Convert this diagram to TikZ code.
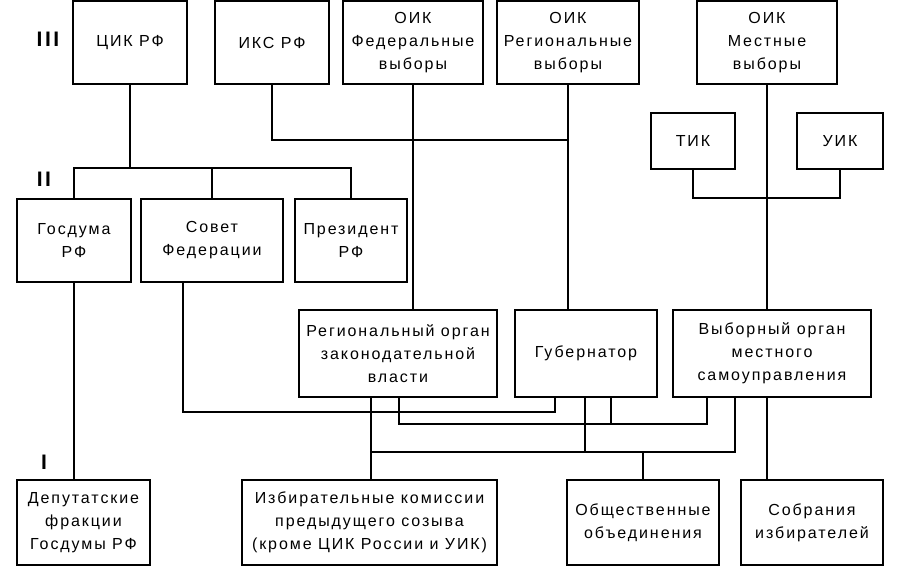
\documentclass[tikz,border=0pt]{standalone}
\usepackage{fontspec}
\setmainfont{Liberation Sans}[LetterSpace=12]
\usetikzlibrary{calc}
\tikzset{
  box/.style={draw=black, line width=1.2pt, align=center, inner sep=0pt,
    font=\fontsize{16}{23}\selectfont},
  topbox/.style={box, minimum height=83},
  midbox/.style={box, minimum height=87},
  lowbox/.style={box, minimum height=85},
  wire/.style={draw=black, line width=1.2pt},
  lvl/.style={font=\fontsize{21}{24}\selectfont\bfseries},
}

\begin{document}
\begin{tikzpicture}[x=1pt,y=-1pt]
  \useasboundingbox (0,0) rectangle (900,566);
  % level III
  \node[topbox, minimum width=114] (cik) at (130,42.5) {ЦИК РФ};
  \node[topbox, minimum width=114] (iks) at (272,42.5) {ИКС РФ};
  \node[topbox, minimum width=140] (oikf) at (413,42.5) {ОИК\\Федеральные\\выборы};
  \node[topbox, minimum width=142] (oikr) at (568,42.5) {ОИК\\Региональные\\выборы};
  \node[topbox, minimum width=140] (oikm) at (767,42.5) {ОИК\\Местные\\выборы};
  \node[box, minimum width=84, minimum height=56] (tik) at (693,141) {ТИК};
  \node[box, minimum width=86, minimum height=56] (uik) at (840,141) {УИК};
  % level II
  \node[topbox, minimum width=114] (gd) at (74,240.5) {Госдума\\РФ};
  \node[topbox, minimum width=142] (sf) at (212,240.5) {Совет\\Федерации};
  \node[topbox, minimum width=112] (pr) at (351,240.5) {Президент\\РФ};
  \node[midbox, minimum width=198] (reg) at (398,353.5) {Региональный орган\\законодательной\\власти};
  \node[midbox, minimum width=142] (gub) at (586,353.5) {Губернатор};
  \node[midbox, minimum width=198] (vyb) at (772,353.5) {Выборный орган\\местного\\самоуправления};
  % level I
  \node[lowbox, minimum width=133] (dep) at (83.5,522.5) {Депутатские\\фракции\\Госдумы РФ};
  \node[lowbox, minimum width=255] (izb) at (369.5,522.5) {Избирательные комиссии\\предыдущего созыва\\(кроме ЦИК России и УИК)};
  \node[lowbox, minimum width=152] (obsh) at (643,522.5) {Общественные\\объединения};
  \node[lowbox, minimum width=142] (sobr) at (812,522.5) {Собрания\\избирателей};
  % level marks
  \node[lvl] (l3) at (48,39) {III};
  \node[lvl] (l2) at (44,179) {II};
  \node[lvl] (l1) at (44,462) {I};

  % bus lines
  \coordinate (busA) at (0,168);
  \coordinate (busB) at (0,140);
  \coordinate (busC) at (0,198);
  \coordinate (busD) at (0,412);
  \coordinate (busE) at (0,424);
  \coordinate (busF) at (0,452);
  % attachment points
  \coordinate (sfb) at ([xshift=-29]sf.south);
  \coordinate (rega) at ([xshift=-27]reg.south);
  \coordinate (regb) at ([xshift=1]reg.south);
  \coordinate (guba) at ([xshift=-31]gub.south);
  \coordinate (gubb) at ([xshift=-1]gub.south);
  \coordinate (gubc) at ([xshift=25]gub.south);
  \coordinate (vyba) at ([xshift=-65]vyb.south);
  \coordinate (vybb) at ([xshift=-37]vyb.south);
  \coordinate (vybc) at ([xshift=-5]vyb.south);

  % III -> II
  \draw[wire] (gd.north) -- (gd.north |- busA) -- (pr.north |- busA) -- (pr.north);
  \draw[wire] (cik.south) -- (cik.south |- busA);
  \draw[wire] (sf.north) -- (sf.north |- busA);
  \draw[wire] (iks.south) -- (iks.south |- busB) -- (oikr.south |- busB);
  \draw[wire] (oikf.south) -- (oikf.south |- reg.north);
  \draw[wire] (oikr.south) -- (oikr.south |- gub.north);
  \draw[wire] (oikm.south) -- (oikm.south |- vyb.north);
  \draw[wire] (tik.south) -- (tik.south |- busC) -- (uik.south |- busC) -- (uik.south);
  % II -> I
  \draw[wire] (gd.south) -- (gd.south |- dep.north);
  \draw[wire] (sfb) -- (sfb |- busD) -- (guba |- busD) -- (guba);
  \draw[wire] (regb) -- (regb |- busE) -- (vyba |- busE) -- (vyba);
  \draw[wire] (gubc) -- (gubc |- busE);
  \draw[wire] (rega) -- (rega |- izb.north);
  \draw[wire] (rega |- busF) -- (vybb |- busF) -- (vybb);
  \draw[wire] (gubb) -- (gubb |- busF);
  \draw[wire] (obsh.north) -- (obsh.north |- busF);
  \draw[wire] (vybc) -- (vybc |- sobr.north);
\end{tikzpicture}
\end{document}
